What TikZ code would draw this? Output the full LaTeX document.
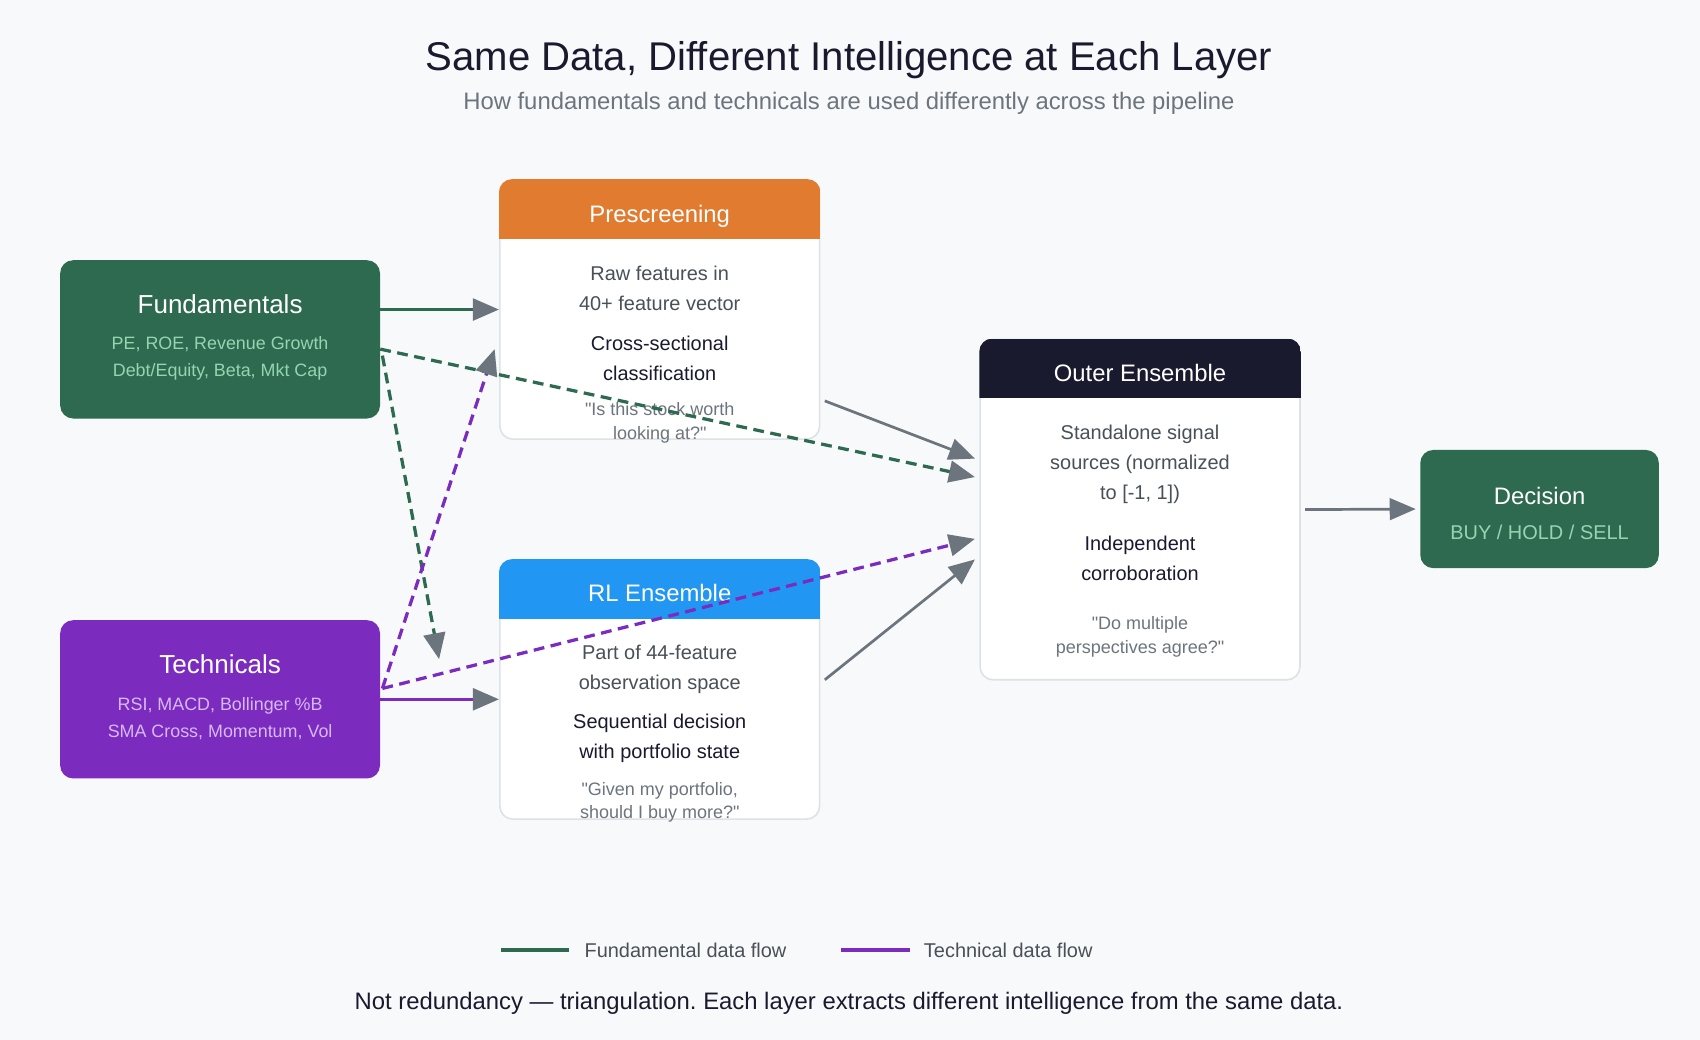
\documentclass[tikz,border=0pt]{standalone}
\usepackage{fontspec}
\setmainfont{Liberation Sans}
\frenchspacing
\usetikzlibrary{arrows.meta,positioning}

\definecolor{bgcol}{HTML}{F8F9FA}
\definecolor{darknavy}{HTML}{1A1A2E}
\definecolor{mutedgray}{HTML}{6C757D}
\definecolor{bodygray}{HTML}{495057}
\definecolor{cardline}{HTML}{DEE2E6}
\definecolor{arrowgray}{HTML}{6C757D}
\definecolor{fundgreen}{HTML}{2D6A4F}
\definecolor{fundlight}{HTML}{95D5B2}
\definecolor{techpurple}{HTML}{7B2CBF}
\definecolor{techlight}{HTML}{D8B8F4}
\definecolor{prehead}{HTML}{E07B30}
\definecolor{rlhead}{HTML}{2196F3}

\begin{document}
\begin{tikzpicture}[
    x = 1pt, y = -1pt, % pixel grid, y pointing down
    >= {Triangle[length=24pt, width=20pt, color=arrowgray]}, % gray arrow heads
    ]

    \tikzset{
    srcbox/.style = {rounded corners = 12pt, minimum width = 295pt, minimum height = 146pt},
    card/.style = {draw = cardline, line width = 1.5pt, fill = white, rounded corners = 12pt,
        minimum width = 295pt, minimum height = 239pt},
    hdtitle/.style = {anchor = base, text = white, font = \fontsize{22}{26}\selectfont},
    srctitle/.style = {hdtitle, font = \fontsize{24}{28}\selectfont},
    subtxt/.style = {align = center, font = \fontsize{16.5}{25}\selectfont},
    bodytxt/.style = {align = center, text = bodygray, font = \fontsize{18.4}{27.5}\selectfont},
    keytxt/.style = {align = center, text = darknavy, font = \fontsize{18.4}{27.5}\selectfont},
    quotetxt/.style = {align = center, text = mutedgray, font = \fontsize{16.6}{22}\selectfont},
    legtxt/.style = {anchor = west, inner sep = 0pt, text = bodygray, font = \fontsize{18.4}{22}\selectfont},
    flow/.style = {line width = 2.5pt, arrowgray, ->},
    fflow/.style = {line width = 3pt, fundgreen, ->},
    tflow/.style = {line width = 3pt, techpurple, ->},
    dashes/.style = {dash pattern = on 10pt off 6pt},
    }

    % background and frame
    \fill[bgcol] (0,0) rectangle (1568,959);

    % titles
    \node[anchor=base, text=darknavy, font=\fontsize{37}{44}\selectfont] (title) at (783,65)
        {Same Data, Different Intelligence at Each Layer};
    \node[anchor=base, text=mutedgray, font=\fontsize{22}{26}\selectfont] (subtitle) at (783,101)
        {How fundamentals and technicals are used differently across the pipeline};

    % data sources
    \node[srcbox, fill=fundgreen] (fund) at (203,313) {};
    \node[srctitle] (fund-t) at (203,289) {Fundamentals};
    \node[subtxt, text=fundlight] (fund-s) at (203,330.5) {PE, ROE, Revenue Growth\\Debt/Equity, Beta, Mkt Cap};

    \node[srcbox, fill=techpurple] (tech) at (203,645) {};
    \node[srctitle] (tech-t) at (203,621) {Technicals};
    \node[subtxt, text=techlight] (tech-s) at (203,662.5) {RSI, MACD, Bollinger \%B\\SMA Cross, Momentum, Vol};

    % the three layers
    \node[card] (pre) at (608.5,285.5) {};
    \node[card] (rl) at (608.5,636) {};
    \node[card, minimum height = 314pt] (outer) at (1051.5,470) {};

    \foreach \c/\col in {pre/prehead, rl/rlhead, outer/darknavy}{
        \begin{scope}
            \clip[rounded corners = 12pt] (\c.south west) rectangle (\c.north east);
            \fill[\col] (\c.north west) rectangle ([yshift=-55pt]\c.north east);
        \end{scope}
    }

    \node[hdtitle] (pre-t) at (608.5,205) {Prescreening};
    \node[bodytxt] (pre-a) at (608.5,266) {Raw features in\\40+ feature vector};
    \node[keytxt] (pre-b) at (608.5,330.5) {Cross-sectional\\classification};
    \node[quotetxt] (pre-q) at (608.5,390) {\textquotedbl Is this stock worth\\looking at?\textquotedbl};

    \node[hdtitle] (rl-t) at (608.5,555) {RL Ensemble};
    \node[bodytxt] (rl-a) at (608.5,617) {Part of 44-feature\\observation space};
    \node[keytxt] (rl-b) at (608.5,681) {Sequential decision\\with portfolio state};
    \node[quotetxt] (rl-q) at (608.5,740) {\textquotedbl Given my portfolio,\\should I buy more?\textquotedbl};

    \node[hdtitle] (outer-t) at (1051.5,352) {Outer Ensemble};
    \node[bodytxt] (outer-a) at (1051.5,428) {Standalone signal\\sources (normalized\\to [-1, 1])};
    \node[keytxt] (outer-b) at (1051.5,515) {Independent\\corroboration};
    \node[quotetxt] (outer-q) at (1051.5,587) {\textquotedbl Do multiple\\perspectives agree?\textquotedbl};

    % decision
    \node[srcbox, fill=fundgreen, minimum width = 220pt, minimum height = 109pt] (dec) at (1420,469.5) {};
    \node[hdtitle] (dec-t) at (1420,465) {Decision};
    \node[anchor=base, text=fundlight, font=\fontsize{18.4}{22}\selectfont] (dec-s) at (1420,498) {BUY / HOLD / SELL};

    % connectors
    \coordinate (fdown) at (405,608);

    \draw[fflow] (fund.east |- pre.west) -- (pre.west);
    \draw[tflow] (tech.east) -- (tech.east -| rl.west);
    \draw[fflow, dashes] ([shift={(0pt,-9pt)}]fund.east) -- ([shift={(-4pt,30pt)}]outer.west);
    \draw[fflow, dashes] ([shift={(2pt,-15pt)}]fund.east) -- (fdown);
    \draw[tflow, dashes] ([shift={(2pt,10pt)}]tech.east) -- ([shift={(-4pt,-36.5pt)}]pre.west);
    \draw[tflow, dashes] ([shift={(2pt,10pt)}]tech.east) -- ([shift={(-4pt,-27pt)}]outer.west);
    \draw[flow] ([shift={(4pt,36pt)}]pre.south east) -- ([shift={(-4pt,47pt)}]outer.west);
    \draw[flow] ([shift={(4pt,9pt)}]rl.east) -- ([shift={(-4pt,-46pt)}]outer.west);
    \draw[flow] ([xshift=4pt]outer.east) -- ([xshift=-4pt]dec.west);

    % legend
    \draw[fundgreen, line width = 3.5pt] (462,876) -- (525,876);
    \node[legtxt] (leg-f) at (539,877) {Fundamental data flow};
    \draw[techpurple, line width = 3.5pt] (776,876) -- (839,876);
    \node[legtxt] (leg-t) at (852,877) {Technical data flow};

    \node[anchor=base, text=darknavy, font=\fontsize{22}{26}\selectfont] (foot) at (783,931)
        {Not redundancy — triangulation. Each layer extracts different intelligence from the same data.};
\end{tikzpicture}
\end{document}
